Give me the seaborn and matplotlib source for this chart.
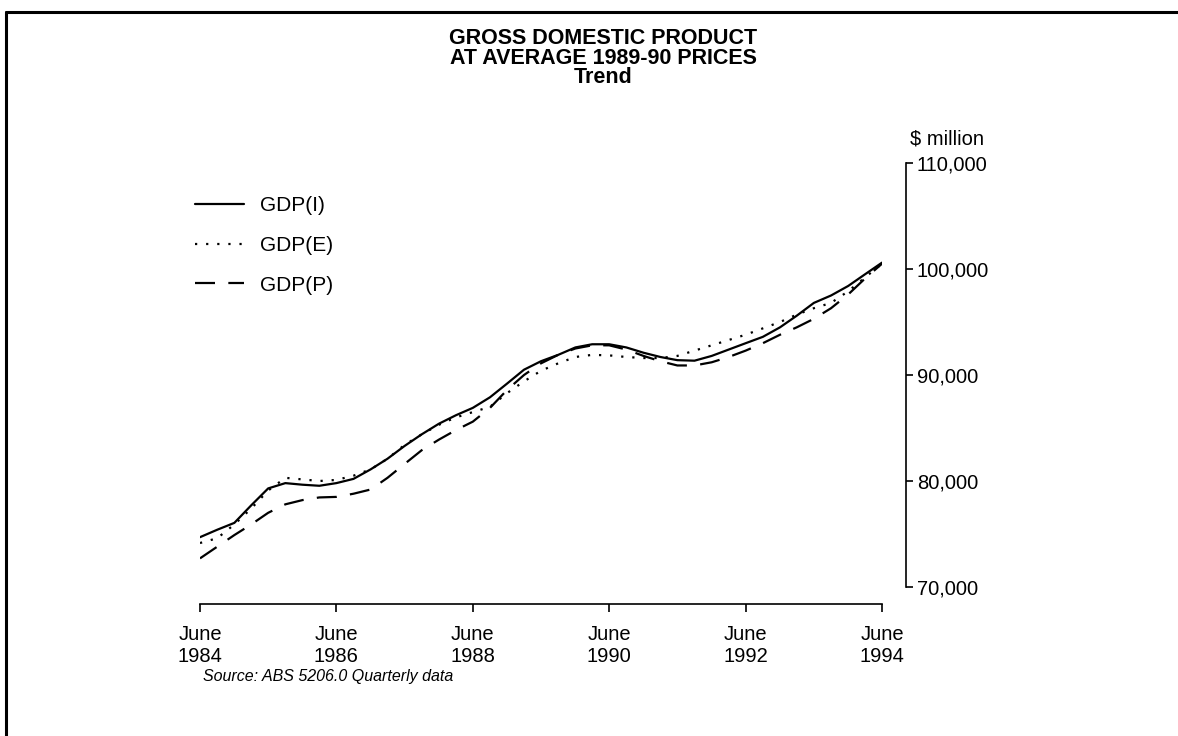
import pandas as pd
import seaborn as sns
import matplotlib.pyplot as plt
from matplotlib.lines import Line2D

# Quarterly trend estimates, $ million at average 1989-90 prices (June 1984 .. June 1994)
quarters = pd.period_range('1984Q2', '1994Q2', freq='Q')

gdp_i = [74700, 75400, 76050, 77700, 79300, 79800, 79650, 79550, 79800, 80200,
         81100, 82100, 83300, 84400, 85400, 86200, 86900, 87900, 89200, 90500,
         91300, 91900, 92600, 92900, 92900, 92600, 92100, 91700, 91400, 91350,
         91800, 92400, 93000, 93600, 94500, 95600, 96800, 97500, 98400, 99500,
         100600]
gdp_e = [74150, 74600, 75900, 77400, 79100, 80300, 80150, 80000, 80100, 80500,
         81100, 82100, 83400, 84400, 85300, 86000, 86500, 87000, 88300, 89400,
         90400, 91100, 91700, 91900, 91850, 91700, 91600, 91600, 91800, 92300,
         92800, 93300, 93800, 94400, 95000, 95700, 96300, 96800, 97900, 99200,
         100500]
gdp_p = [72700, 73800, 74900, 75900, 77000, 77800, 78200, 78450, 78500, 78800,
         79200, 80300, 81600, 82900, 83900, 84800, 85600, 86900, 88600, 90000,
         91100, 91900, 92500, 92800, 92800, 92400, 91800, 91300, 90900, 90900,
         91200, 91700, 92300, 93000, 93800, 94500, 95300, 96300, 97600, 99100,
         100500]

series_names = ['GDP(I)', 'GDP(E)', 'GDP(P)']
tick_years = [1984, 1986, 1988, 1990, 1992, 1994]
y_ticks = [70000, 80000, 90000, 100000, 110000]

# Build a long table for seaborn
dates = quarters.to_timestamp(how='end').normalize()
df = pd.concat([
    pd.DataFrame({'date': dates, 'value': vals, 'series': name})
    for name, vals in zip(series_names, [gdp_i, gdp_e, gdp_p])
])

sns.set_style('white')
plt.rcParams['font.family'] = ['Liberation Sans', 'DejaVu Sans']
plt.rcParams['text.color'] = 'black'

W, H = 1178, 736
fig = plt.figure(figsize=(W / 100, H / 100), dpi=100)
ax = fig.add_axes([200 / W, 1 - 587 / H, 682 / W, (587 - 163) / H])

sns.lineplot(data=df, x='date', y='value', style='series', color='black',
             dashes={'GDP(I)': '', 'GDP(E)': (1, 4), 'GDP(P)': (9, 6)},
             linewidth=1.6, ax=ax)

handles, labels = ax.get_legend_handles_labels()
ax.legend(handles, labels, loc='upper left', bbox_to_anchor=(195 / W, 1 - 196 / H),
          bbox_transform=fig.transFigure, frameon=False, fontsize=15,
          handlelength=2.35, handletextpad=0.75, labelspacing=1.0, borderaxespad=0,
          borderpad=0, labelcolor='black')

# axes: right-hand value axis and bottom date axis, both set off from the data
ax.set_xlim(dates[0], dates[-1])
ax.set_ylim(70000, 110000)
ax.yaxis.tick_right()
ax.set_yticks(y_ticks)
ax.set_yticklabels([f'{v:,}' for v in y_ticks])
tick_dates = pd.to_datetime([f'{y}-06-30' for y in tick_years])
ax.set_xticks(tick_dates)
ax.set_xticklabels([f'June\n{y}' for y in tick_years])
ax.set_xlabel('')
ax.set_ylabel('')

for side in ['left', 'top']:
    ax.spines[side].set_visible(False)
ax.spines['right'].set_position(('outward', 17))
ax.spines['bottom'].set_position(('outward', 12))
for side in ['right', 'bottom']:
    ax.spines[side].set_linewidth(1.2)
    ax.spines[side].set_color('black')
ax.tick_params(axis='y', which='major', right=True, left=False, direction='out',
               length=5, width=1.2, pad=3, labelsize=14.5, colors='black')
ax.tick_params(axis='x', which='major', bottom=True, direction='out',
               length=6, width=1.2, pad=9, labelsize=14.5, colors='black')
for lbl in ax.get_xticklabels():
    lbl.set_linespacing(1.2)

# titles and notes
fig.text(603 / W, 1 - 28 / H, 'GROSS DOMESTIC PRODUCT\nAT AVERAGE 1989-90 PRICES\nTrend',
         ha='center', va='top', fontsize=15.5, fontweight='bold', linespacing=0.92,
         color='black')
fig.text(910 / W, 1 - 139 / H, r'\$ million', ha='left', va='center', fontsize=14.5,
         color='black')
fig.text(203 / W, 1 - 677 / H, 'Source: ABS 5206.0 Quarterly data', ha='left',
         va='center', fontsize=11.5, style='italic', color='black')

# frame of the original page (left and top edges only)
fig.add_artist(Line2D([6 / W, 6 / W], [0, 1 - 12 / H], color='black', lw=2.2,
                      transform=fig.transFigure))
fig.add_artist(Line2D([6 / W, 1], [1 - 12 / H, 1 - 12 / H], color='black', lw=2.2,
                      transform=fig.transFigure))

fig.savefig('out.png', dpi=100)
